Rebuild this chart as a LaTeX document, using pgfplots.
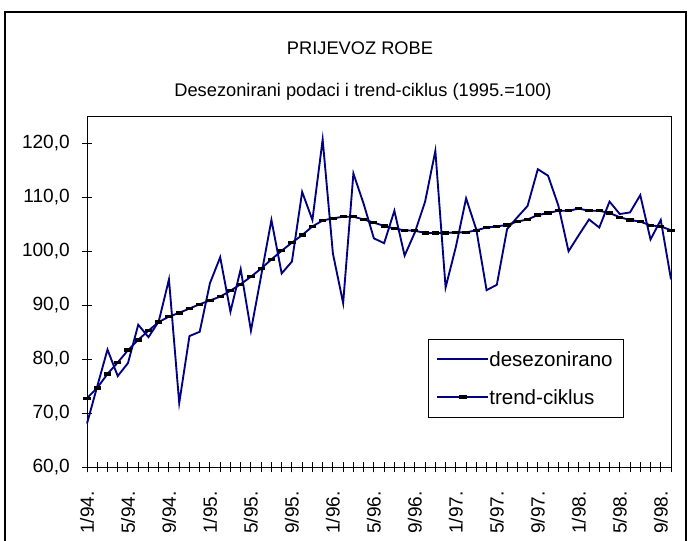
\documentclass[border=0pt]{standalone}
\usepackage{pgfplots}
\pgfplotsset{compat=1.18}
\usepackage{pgfplotstable}
\usepackage{fontspec}
\setmainfont{Liberation Sans}
\definecolor{navy}{RGB}{0,0,128}
\newcommand{\cf}{\fontsize{13.7pt}{16pt}\selectfont}
\newcommand{\tf}{\fontsize{14.3pt}{17pt}\selectfont}
\newcommand{\lf}{\fontsize{15.4pt}{18pt}\selectfont}
\pgfplotstableread{
i des trend
0 68.1 72.8
1 75.0 74.7
2 81.8 77.3
3 76.9 79.4
4 79.3 81.7
5 86.4 83.6
6 84.1 85.3
7 87.0 86.9
8 94.8 87.9
9 71.9 88.6
10 84.3 89.4
11 85.1 90.2
12 94.1 90.9
13 98.9 91.6
14 88.8 92.7
15 96.7 93.9
16 85.3 95.3
17 95.5 96.8
18 105.8 98.5
19 95.9 100.1
20 98.1 101.6
21 111.0 103.0
22 105.8 104.6
23 120.7 105.7
24 99.6 106.1
25 90.4 106.4
26 114.4 106.4
27 108.8 105.9
28 102.4 105.3
29 101.5 104.7
30 107.5 104.2
31 99.2 103.9
32 103.5 103.8
33 109.2 103.4
34 118.6 103.4
35 93.3 103.4
36 100.8 103.5
37 109.8 103.5
38 104.0 103.9
39 92.8 104.4
40 93.8 104.6
41 104.1 104.9
42 106.3 105.5
43 108.4 105.9
44 115.2 106.7
45 114.0 107.1
46 108.5 107.5
47 100.0 107.5
48 103.0 107.9
49 105.9 107.5
50 104.4 107.5
51 109.2 107.1
52 106.9 106.3
53 107.2 105.8
54 110.4 105.5
55 102.2 104.8
56 105.8 104.6
57 94.8 103.9
}\datatable
\begin{document}
\begin{tikzpicture}
\path[use as bounding box] (0,0) rectangle (518.25pt,405.75pt);
\draw[line width=1.2pt] (3.75pt,-2pt) -- (3.75pt,396.75pt) -- (514.5pt,396.75pt) -- (514.5pt,-2pt);
\node[anchor=base,inner sep=0pt,font=\cf] at (270pt,364.8pt) {PRIJEVOZ ROBE};
\node[anchor=base,inner sep=0pt,font=\cf] at (272.25pt,333.3pt) {Desezonirani podaci i trend-ciklus (1995.=100)};
\begin{axis}[
  at={(65.25pt,55.275pt)}, anchor=south west,
  width=438pt, height=263.25pt, scale only axis,
  xmin=0, xmax=57, ymin=60, ymax=125,
  clip=false,
  axis line style={black, line width=0.75pt},
  tick align=center, tick pos=left,
  major tick length=7.5pt, minor tick length=7.5pt,
  every tick/.style={black, line width=0.75pt},
  xtick={0,4,...,56},
  minor xtick={0,...,57},
  xticklabels={1/94.,5/94.,9/94.,1/95.,5/95.,9/95.,1/96.,5/96.,9/96.,1/97.,5/97.,9/97.,1/98.,5/98.,9/98.},
  xticklabel style={rotate=90, anchor=east, inner sep=0pt, font=\tf},
  xticklabel shift=14pt,
  ytick={60,70,...,120},
  yticklabel style={anchor=east, inner sep=0pt, font=\tf},
  yticklabel shift=9pt,
  /pgf/number format/.cd, fixed, fixed zerofill, precision=1, use comma, assume math mode=true,
  /pgfplots/.cd,
  legend style={at={(0.5839,0.3655)}, anchor=north west, draw=black, line width=0.75pt,
    font=\lf, inner xsep=6pt, inner ysep=9.5pt, row sep=17.5pt,
    nodes={inner sep=0pt, text height=11pt, text depth=0pt, text width=94.5pt, align=left},
    /tikz/every even column/.append style={column sep=3.75pt}},
  legend cell align=left,
  legend image code/.code={\draw[mark repeat=2,mark phase=2,#1,draw=navy,line width=1.4pt] plot coordinates {(0pt,0.4pt) (19.1pt,0.4pt) (38.25pt,0.4pt)};},
]
\addplot[navy, line width=1.4pt] table[x=i, y=des] {\datatable};
\addlegendentry{desezonirano}
\addplot[navy, line width=1.4pt, mark=-, mark size=2.7pt, mark options={draw=black, line width=2.5pt}] table[x=i, y=trend] {\datatable};
\addlegendentry{trend-ciklus}
\end{axis}
\end{tikzpicture}
\end{document}
